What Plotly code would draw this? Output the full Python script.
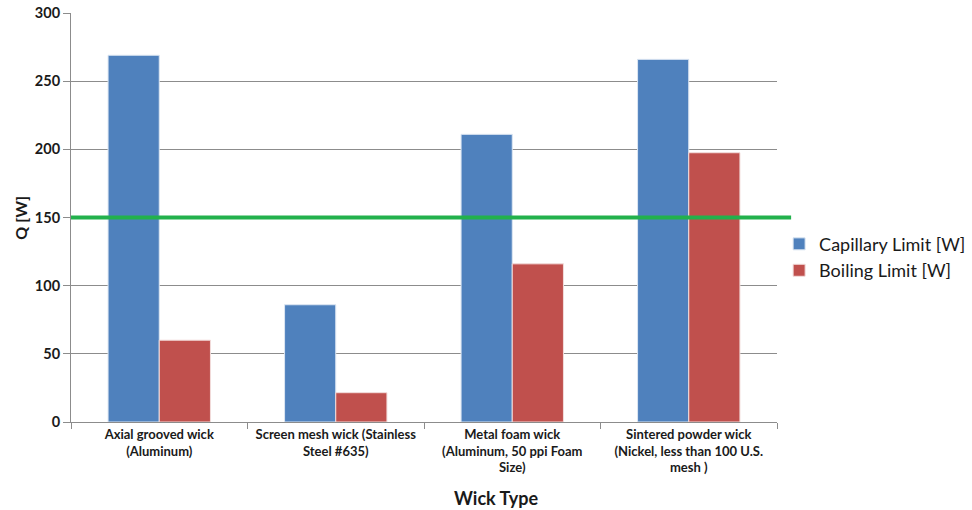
import plotly.graph_objects as go

categories = [
    "Axial grooved wick<br>(Aluminum)",
    "Screen mesh wick (Stainless<br>Steel #635)",
    "Metal foam wick<br>(Aluminum, 50 ppi Foam<br>Size)",
    "Sintered powder wick<br>(Nickel, less than 100 U.S.<br>mesh )",
]
capillary_limit = [269, 86, 211, 266]
boiling_limit = [60, 21.5, 116, 197.5]
design_load = 150
y_ticks = [0, 50, 100, 150, 200, 250, 300]

font_main = "Lato, 'Open Sans', sans-serif"
text_color = "#1A1A1A"

fig = go.Figure()
fig.add_trace(go.Bar(
    name="Capillary Limit [W]", x=categories, y=capillary_limit,
    marker=dict(color="#4F81BD", line=dict(color="#DCE6F2", width=1)),
))
fig.add_trace(go.Bar(
    name="Boiling Limit [W]", x=categories, y=boiling_limit,
    marker=dict(color="#C0504D", line=dict(color="#F2DCDB", width=1)),
))

# horizontal reference line at the design load
fig.add_shape(
    type="line", xref="paper", yref="y",
    x0=0, x1=1.02, y0=design_load, y1=design_load,
    line=dict(color="#22B14C", width=4), layer="above",
)

# axis titles
fig.add_annotation(
    text="<b>Wick Type</b>", xref="paper", yref="paper",
    x=0.602, y=-0.187, xanchor="center", yanchor="middle",
    showarrow=False, font=dict(size=18, color=text_color, family=font_main),
)
fig.add_annotation(
    text="<b>Q [W]</b>", xref="paper", yref="paper",
    x=-0.072, y=0.5, xanchor="center", yanchor="middle", textangle=-90,
    showarrow=False, font=dict(size=16, color=text_color, family=font_main),
)

fig.update_layout(
    width=972, height=510,
    margin=dict(l=71, r=195, t=13, b=88, autoexpand=False),
    paper_bgcolor="white", plot_bgcolor="white",
    barmode="group", bargap=0.42, bargroupgap=0,
    font=dict(family=font_main, color=text_color),
    showlegend=True,
    legend=dict(
        x=1.003, y=0.403, xanchor="left", yanchor="middle",
        font=dict(size=18, color=text_color),
        itemwidth=30, bgcolor="rgba(0,0,0,0)",
    ),
    xaxis=dict(
        automargin=False,
        showline=True, linecolor="#8C8C8C", linewidth=1,
        ticks="outside", tickson="boundaries", ticklen=6, tickcolor="#8C8C8C",
        tickfont=dict(size=13, color=text_color, family=font_main, weight="bold"),
        showgrid=False,
    ),
    yaxis=dict(
        automargin=False,
        range=[0, 300], tickvals=y_ticks,
        showline=True, linecolor="#8C8C8C", linewidth=1,
        ticks="outside", ticklen=7, tickcolor="#8C8C8C",
        showgrid=True, gridcolor="#8C8C8C", gridwidth=1,
        tickfont=dict(size=14.5, color=text_color, family=font_main, weight="bold"),
        zeroline=False,
    ),
)

fig.write_html("out.html")
